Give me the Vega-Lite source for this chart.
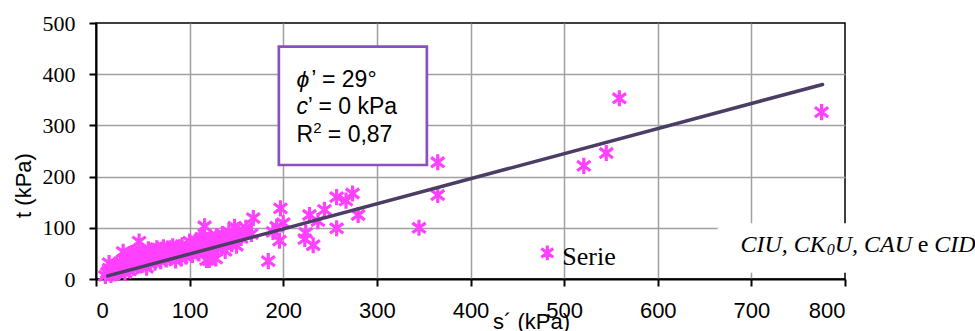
{
  "$schema": "https://vega.github.io/schema/vega-lite/v6.json",
  "width": 749,
  "height": 256,
  "autosize": "none",
  "padding": {"left": 96, "top": 23, "right": 130, "bottom": 52},
  "background": "white",
  "config": {
    "font": "Liberation Sans",
    "view": {"stroke": "#000", "strokeWidth": 1.5}
  },
  "datasets": {
    "pts": [
      {"s":775,"t":326},{"s":559,"t":353},{"s":545,"t":246},{"s":521,"t":221},{"s":365,"t":228},{"s":365,"t":164},{"s":345,"t":100},
      {"s":274,"t":167},{"s":257,"t":160},{"s":267,"t":153},{"s":280,"t":125},{"s":244,"t":135},{"s":228,"t":125},{"s":237,"t":113},{"s":257,"t":99},{"s":224,"t":90},{"s":223,"t":78},{"s":232,"t":66},
      {"s":197,"t":138},{"s":193,"t":102},{"s":189,"t":92},{"s":196,"t":75},{"s":200,"t":109},{"s":184,"t":35},{"s":168,"t":119},{"s":166,"t":88},{"s":148,"t":102},{"s":150,"t":65},{"s":143,"t":79},{"s":116,"t":103},{"s":128,"t":40},{"s":118,"t":37},{"s":121,"t":37},{"s":119,"t":76},{"s":46,"t":73},{"s":100,"t":73},{"s":29,"t":53},{"s":14,"t":31},{"s":128,"t":79},{"s":111,"t":76},
      {"s":10,"t":6},{"s":12,"t":12},{"s":14,"t":20},{"s":16,"t":8},{"s":18,"t":15},{"s":19,"t":25},{"s":20,"t":11},{"s":21,"t":18},
      {"s":22,"t":28},{"s":24,"t":14},{"s":25,"t":22},{"s":26,"t":33},{"s":28,"t":18},{"s":30,"t":26},{"s":31,"t":12},{"s":32,"t":38},{"s":33,"t":21},{"s":34,"t":30},{"s":35,"t":45},{"s":36,"t":17},{"s":37,"t":27},{"s":38,"t":50},{"s":39,"t":35},{"s":40,"t":22},
      {"s":41,"t":42},{"s":42,"t":30},{"s":43,"t":55},{"s":44,"t":25},{"s":45,"t":38},{"s":47,"t":47},{"s":48,"t":33},{"s":50,"t":28},{"s":51,"t":52},{"s":52,"t":40},{"s":53,"t":45},{"s":54,"t":22},{"s":55,"t":35},{"s":56,"t":58},{"s":57,"t":43},{"s":58,"t":30},{"s":59,"t":50},{"s":60,"t":38},
      {"s":61,"t":55},{"s":62,"t":45},{"s":63,"t":32},{"s":64,"t":48},{"s":65,"t":60},{"s":66,"t":40},{"s":68,"t":52},{"s":69,"t":35},{"s":70,"t":57},{"s":71,"t":45},{"s":72,"t":62},{"s":74,"t":50},{"s":75,"t":38},{"s":76,"t":55},{"s":78,"t":47},{"s":79,"t":60},{"s":80,"t":42},
      {"s":81,"t":53},{"s":82,"t":64},{"s":84,"t":48},{"s":85,"t":36},{"s":86,"t":58},{"s":88,"t":45},{"s":89,"t":62},{"s":90,"t":53},{"s":91,"t":40},{"s":92,"t":66},{"s":94,"t":50},{"s":95,"t":57},{"s":96,"t":44},{"s":98,"t":63},{"s":100,"t":52},
      {"s":102,"t":60},{"s":103,"t":47},{"s":104,"t":68},{"s":106,"t":55},{"s":107,"t":75},{"s":108,"t":62},{"s":110,"t":50},{"s":111,"t":70},{"s":112,"t":58},{"s":113,"t":80},{"s":115,"t":65},{"s":117,"t":55},{"s":120,"t":68},
      {"s":121,"t":48},{"s":122,"t":80},{"s":124,"t":62},{"s":125,"t":72},{"s":126,"t":55},{"s":129,"t":84},{"s":130,"t":66},{"s":132,"t":75},{"s":134,"t":60},{"s":135,"t":88},{"s":137,"t":70},{"s":138,"t":55},{"s":140,"t":80},{"s":142,"t":92},{"s":145,"t":68},{"s":147,"t":85},{"s":152,"t":95},{"s":155,"t":80},{"s":158,"t":90},{"s":160,"t":100}
    ],
    "fit": [{"s":12.5,"t":6},{"s":776,"t":380}]
  },
  "layer": [
    {
      "data": {"name": "pts"},
      "mark": {"type": "point", "shape": "M-0.95,-0.7L0.95,0.7M-0.95,0.7L0.95,-0.7M0,-1.15L0,1.15", "filled": false, "size": 196, "strokeWidth": 3.2, "color": "#ff40ff", "opacity": 1},
      "encoding": {
        "x": {"field": "s", "type": "quantitative", "scale": {"domain": [0, 800], "nice": false, "zero": false},
          "axis": {"values": [0,100,200,300,400,500,600,700,800], "grid": true, "gridColor": "#a0a0a0", "gridWidth": 1.5,
            "gridOpacity": {"condition": {"test": "datum.value == 0 || datum.value == 800", "value": 0}, "value": 1},
            "domainColor": "#000", "domainWidth": 2, "tickColor": "#000", "tickWidth": 2, "tickSize": 7,
            "labelFont": "Liberation Sans", "labelFontSize": 22, "labelColor": "#000", "labelPadding": 14,
            "title": "s´ (kPa)", "titleFont": "Liberation Sans", "titleFontSize": 22, "titleFontWeight": "normal", "titleColor": "#000",
            "titleX": 435, "titleY": 49, "titleAlign": "center", "titleBaseline": "alphabetic"}},
        "y": {"field": "t", "type": "quantitative", "scale": {"domain": [0, 500], "nice": false, "zero": false},
          "axis": {"values": [0,100,200,300,400,500], "grid": true, "gridColor": "#a0a0a0", "gridWidth": 1.5,
            "gridOpacity": {"condition": {"test": "datum.value == 0 || datum.value == 500", "value": 0}, "value": 1},
            "domainColor": "#000", "domainWidth": 2, "tickColor": "#000", "tickWidth": 2, "tickSize": 7,
            "labelFont": "Liberation Serif", "labelFontSize": 22, "labelColor": "#000", "labelPadding": 14,
            "title": "t (kPa)", "titleFont": "Liberation Sans", "titleFontSize": 22, "titleFontWeight": "normal", "titleColor": "#000",
            "titleX": -65.5, "titleY": 162, "titleAngle": 270, "titleAlign": "center", "titleBaseline": "alphabetic"}}
      }
    },
    {
      "data": {"name": "fit"},
      "mark": {"type": "line", "color": "#4b3d63", "strokeWidth": 3.5, "strokeCap": "round"},
      "encoding": {"x": {"field": "s", "type": "quantitative"}, "y": {"field": "t", "type": "quantitative"}}
    },
    {
      "data": {"values": [{}]},
      "mark": {"type": "rect", "fill": "white", "stroke": null},
      "encoding": {"x": {"datum": 664, "type": "quantitative"}, "x2": {"datum": 960}, "y": {"datum": 12, "type": "quantitative"}, "y2": {"datum": 109}}
    },
    {
      "data": {"values": [{}]},
      "mark": {"type": "point", "shape": "M-0.95,-0.7L0.95,0.7M-0.95,0.7L0.95,-0.7M0,-1.15L0,1.15", "filled": false, "size": 160, "strokeWidth": 3.2, "color": "#ff40ff", "opacity": 1},
      "encoding": {"x": {"datum": 482, "type": "quantitative"}, "y": {"datum": 51, "type": "quantitative"}}
    },
    {
      "data": {"values": [{}]},
      "mark": {"type": "text", "text": "Serie", "font": "Liberation Serif", "fontSize": 26, "align": "left", "baseline": "alphabetic", "color": "#000"},
      "encoding": {"x": {"datum": 498, "type": "quantitative"}, "y": {"datum": 27, "type": "quantitative"}}
    },
    {
      "data": {"values": [{}]},
      "mark": {"type": "text", "text": "CIU, CK", "font": "Liberation Serif", "fontStyle": "italic", "fontSize": 24, "align": "left", "baseline": "alphabetic", "color": "#000"},
      "encoding": {"x": {"datum": 688.4, "type": "quantitative"}, "y": {"datum": 53.7, "type": "quantitative"}}
    },
    {
      "data": {"values": [{}]},
      "mark": {"type": "text", "text": "0", "font": "Liberation Serif", "fontStyle": "italic", "fontSize": 16, "align": "left", "baseline": "alphabetic", "color": "#000"},
      "encoding": {"x": {"datum": 780.4, "type": "quantitative"}, "y": {"datum": 45.9, "type": "quantitative"}}
    },
    {
      "data": {"values": [{}]},
      "mark": {"type": "text", "text": "U, CAU", "font": "Liberation Serif", "fontStyle": "italic", "fontSize": 24, "align": "left", "baseline": "alphabetic", "color": "#000"},
      "encoding": {"x": {"datum": 789, "type": "quantitative"}, "y": {"datum": 53.7, "type": "quantitative"}}
    },
    {
      "data": {"values": [{}]},
      "mark": {"type": "text", "text": "e", "font": "Liberation Serif", "fontSize": 24, "align": "left", "baseline": "alphabetic", "color": "#000"},
      "encoding": {"x": {"datum": 877.7, "type": "quantitative"}, "y": {"datum": 53.7, "type": "quantitative"}}
    },
    {
      "data": {"values": [{}]},
      "mark": {"type": "text", "text": "CID", "font": "Liberation Serif", "fontStyle": "italic", "fontSize": 24, "align": "left", "baseline": "alphabetic", "color": "#000"},
      "encoding": {"x": {"datum": 895.4, "type": "quantitative"}, "y": {"datum": 53.7, "type": "quantitative"}}
    },
    {
      "data": {"values": [{}]},
      "mark": {"type": "rect", "fill": "white", "stroke": "#8b4fbf", "strokeWidth": 2.7},
      "encoding": {"x": {"datum": 195.3, "type": "quantitative"}, "x2": {"datum": 353.4}, "y": {"datum": 453.7, "type": "quantitative"}, "y2": {"datum": 222.7}}
    },
    {
      "data": {"values": [{}]},
      "mark": {"type": "text", "text": "ϕ", "font": "Liberation Sans", "fontStyle": "italic", "fontSize": 23, "align": "left", "baseline": "alphabetic", "color": "#000"},
      "encoding": {"x": {"datum": 214.2, "type": "quantitative"}, "y": {"datum": 374.4, "type": "quantitative"}}
    },
    {
      "data": {"values": [{}]},
      "mark": {"type": "text", "text": "’ = 29°", "font": "Liberation Sans", "fontSize": 23, "align": "left", "baseline": "alphabetic", "color": "#000"},
      "encoding": {"x": {"datum": 230, "type": "quantitative"}, "y": {"datum": 374.4, "type": "quantitative"}}
    },
    {
      "data": {"values": [{}]},
      "mark": {"type": "text", "text": "c", "font": "Liberation Sans", "fontStyle": "italic", "fontSize": 23, "align": "left", "baseline": "alphabetic", "color": "#000"},
      "encoding": {"x": {"datum": 214.2, "type": "quantitative"}, "y": {"datum": 321.7, "type": "quantitative"}}
    },
    {
      "data": {"values": [{}]},
      "mark": {"type": "text", "text": "’ = 0 kPa", "font": "Liberation Sans", "fontSize": 23, "align": "left", "baseline": "alphabetic", "color": "#000"},
      "encoding": {"x": {"datum": 226.3, "type": "quantitative"}, "y": {"datum": 321.7, "type": "quantitative"}}
    },
    {
      "data": {"values": [{}]},
      "mark": {"type": "text", "text": "R", "font": "Liberation Sans", "fontSize": 23, "align": "left", "baseline": "alphabetic", "color": "#000"},
      "encoding": {"x": {"datum": 214.2, "type": "quantitative"}, "y": {"datum": 268.2, "type": "quantitative"}}
    },
    {
      "data": {"values": [{}]},
      "mark": {"type": "text", "text": "2", "font": "Liberation Sans", "fontSize": 15, "align": "left", "baseline": "alphabetic", "color": "#000"},
      "encoding": {"x": {"datum": 232, "type": "quantitative"}, "y": {"datum": 285, "type": "quantitative"}}
    },
    {
      "data": {"values": [{}]},
      "mark": {"type": "text", "text": "= 0,87", "font": "Liberation Sans", "fontSize": 23, "align": "left", "baseline": "alphabetic", "color": "#000"},
      "encoding": {"x": {"datum": 247.6, "type": "quantitative"}, "y": {"datum": 268.2, "type": "quantitative"}}
    }
  ]
}
